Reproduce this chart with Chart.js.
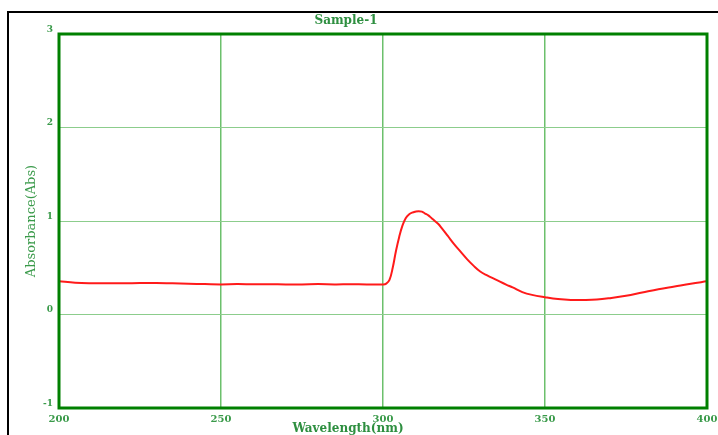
<!DOCTYPE html>
<html>
<head>
<meta charset="utf-8">
<title>Sample-1</title>
<script src="https://cdn.jsdelivr.net/npm/chart.js@4.4.1/dist/chart.umd.min.js"></script>
<style>
  body { margin: 0; background: #fff; }
  #wrap { position: relative; width: 718px; height: 435px; }
  #frame { position: absolute; left: 7px; top: 11px; right: 0; bottom: 0; border-top: 2px solid #000; border-left: 2px solid #000; }
</style>
</head>
<body>
<div id="wrap">
  <div id="frame"></div>
  <canvas id="chart"></canvas>
</div>
<script>
'use strict';

// spectrum
let wavelengths = [200, 205, 210, 215, 220, 225, 230, 235, 240, 245, 250, 255, 260, 265, 270, 275, 280, 285, 290, 295, 300,
  301, 302, 303, 304, 305, 306, 307, 308, 309, 310, 311, 312, 313, 314, 315, 316, 317, 318, 320, 322, 324, 326, 328, 330,
  332, 335, 338, 340, 343, 346, 350, 354, 358, 362, 366, 370, 375, 380, 385, 390, 395, 400];
let absorbance = [0.355, 0.34, 0.335, 0.335, 0.335, 0.336, 0.338, 0.333, 0.328, 0.325, 0.322, 0.325, 0.323, 0.323, 0.322, 0.322, 0.325, 0.322, 0.323, 0.322, 0.322,
  0.33, 0.37, 0.5, 0.68, 0.83, 0.95, 1.03, 1.07, 1.09, 1.1, 1.105, 1.1, 1.08, 1.06, 1.03, 1.0, 0.97, 0.93, 0.84, 0.75, 0.67, 0.59, 0.52, 0.46,
  0.42, 0.37, 0.32, 0.29, 0.24, 0.21, 0.185, 0.165, 0.155, 0.155, 0.16, 0.175, 0.2, 0.235, 0.27, 0.3, 0.33, 0.355];
let xTicks = [200, 250, 300, 350, 400];
let yTicks = [-1, 0, 1, 2, 3];

let textGreen = '#3a9a4a';
let serif = 'DejaVu Serif';

let points = [];
for (let i = 0; i < wavelengths.length; i++) {
  points.push({ x: wavelengths[i], y: absorbance[i] });
}

// plot frame + titles drawn around the chart area
let decor = {
  id: 'decor',
  afterDraw(chart) {
    let ctx = chart.ctx;
    let a = chart.chartArea;
    ctx.save();
    ctx.strokeStyle = '#008000';
    ctx.lineWidth = 3;
    ctx.strokeRect(a.left, a.top, a.right - a.left, a.bottom - a.top);
    ctx.fillStyle = '#2e8f40';
    ctx.textAlign = 'center';
    ctx.textBaseline = 'middle';
    ctx.font = 'bold 12px "' + serif + '"';
    ctx.fillText('Sample-1', 346, 21);
    ctx.font = 'bold 12px "' + serif + '"';
    ctx.fillText('Wavelength(nm)', 348, 429);
    ctx.restore();
  }
};

let chartObj = {
  type: 'line',
  data: {
    datasets: [{
      label: 'Sample-1',
      data: points,
      borderColor: '#ff1a1a',
      borderWidth: 2,
      pointRadius: 0,
      tension: 0.4,
      fill: false
    }]
  },
  options: {
    responsive: true,
    maintainAspectRatio: false,
    animation: false,
    layout: { padding: { top: 34, right: 11, bottom: 0, left: 0 } },
    scales: {
      x: {
        type: 'linear',
        min: 200,
        max: 400,
        afterFit: function (scale) {
          scale.height = 27;
          scale.paddingLeft = 0;
          scale.paddingRight = 0;
        },
        afterBuildTicks: function (scale) { scale.ticks = xTicks.map(v => ({ value: v })); },
        grid: { color: '#6cc06c', lineWidth: 1.5, drawTicks: false },
        border: { display: false },
        ticks: { color: textGreen, padding: 5, font: { family: serif, size: 10, weight: 'bold' } }
      },
      y: {
        min: -1,
        max: 3,
        afterFit: function (scale) {
          scale.width = 59;
          scale.paddingTop = 0;
          scale.paddingBottom = 0;
        },
        afterBuildTicks: function (scale) { scale.ticks = yTicks.map(v => ({ value: v })); },
        grid: { color: '#8ccd8c', lineWidth: 1, drawTicks: false },
        border: { display: false },
        ticks: {
          color: textGreen,
          padding: 6,
          font: { family: serif, size: 9, weight: 'bold', lineHeight: 1 },
          callback: function (v) { return [String(v), '']; }
        },
        title: {
          display: true,
          text: 'Absorbance(Abs)',
          color: textGreen,
          padding: { top: 24, bottom: 0 },
          font: { family: serif, size: 13, weight: 'normal' }
        }
      }
    },
    plugins: {
      legend: { display: false },
      tooltip: { enabled: false }
    }
  },
  plugins: [decor]
};

new Chart(document.getElementById('chart'), chartObj);
</script>
</body>
</html>
